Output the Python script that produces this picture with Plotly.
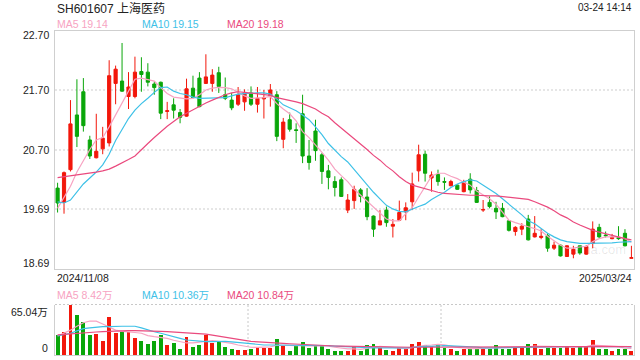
import pandas as pd
import plotly.graph_objects as go

# ---------------- data ----------------
holidays = ["2025-01-01", "2025-01-28", "2025-01-29", "2025-01-30", "2025-01-31",
            "2025-02-03", "2025-02-04"]
dates = [d.strftime("%Y/%m/%d") for d in pd.bdate_range("2024-11-08", "2025-03-24")
         if d.strftime("%Y-%m-%d") not in holidays]

open_ = [20.05, 19.81, 20.36, 21.28, 21.67, 20.86, 20.56, 20.71, 20.81, 21.81,
         21.85, 21.59, 21.59, 22.01, 22.00, 21.80, 21.83, 21.34, 21.45, 21.32,
         21.26, 21.73, 21.90, 21.81, 21.81, 21.99, 21.62, 21.53, 21.46, 21.50,
         21.65, 21.46, 21.55, 21.60, 21.62, 20.87, 21.20, 21.03, 21.30, 20.59,
         21.01, 20.61, 20.34, 20.16, 20.19, 19.68, 19.84, 20.02, 19.90, 19.58,
         19.43, 19.68, 19.41, 19.51, 19.65, 19.82, 20.34, 20.62, 20.22, 20.28,
         20.16, 20.09, 20.10, 19.99, 20.20, 20.01, 19.68, 19.81, 19.71, 19.71,
         19.50, 19.32, 19.36, 19.53, 19.23, 19.22, 19.25, 19.04, 19.09, 18.90,
         18.94, 19.08, 18.94, 19.12, 19.39, 19.26, 19.20, 19.22, 19.29, 18.87]
high = [20.14, 20.33, 21.53, 21.88, 21.90, 20.93, 21.30, 21.08, 22.20, 22.11,
        22.49, 22.00, 22.26, 22.25, 22.15, 21.84, 21.84, 21.50, 21.56, 21.38,
        21.89, 21.94, 22.00, 22.30, 22.05, 22.09, 21.91, 21.65, 21.75, 21.71,
        21.76, 21.75, 21.70, 21.80, 21.68, 21.23, 21.32, 21.14, 21.62, 20.86,
        21.20, 20.64, 20.44, 20.25, 20.23, 19.95, 20.09, 20.05, 20.05, 19.59,
        19.68, 19.74, 19.53, 19.84, 19.81, 20.31, 20.78, 20.68, 20.33, 20.36,
        20.23, 20.19, 20.11, 20.19, 20.30, 20.07, 19.85, 19.91, 19.82, 19.80,
        19.51, 19.41, 19.46, 19.60, 19.58, 19.36, 19.29, 19.15, 19.10, 19.09,
        19.08, 19.08, 19.09, 19.49, 19.45, 19.32, 19.28, 19.41, 19.36, 19.08]
low = [19.64, 19.62, 20.33, 20.74, 21.00, 20.54, 20.55, 20.62, 20.75, 21.46,
       21.67, 21.38, 21.56, 21.67, 21.76, 21.62, 21.21, 21.21, 21.22, 21.14,
       21.25, 21.56, 21.41, 21.80, 21.67, 21.65, 21.53, 21.36, 21.43, 21.35,
       21.43, 21.32, 21.22, 21.42, 20.84, 20.72, 21.00, 20.81, 20.47, 20.36,
       20.51, 20.12, 20.03, 19.91, 19.90, 19.63, 19.70, 19.81, 19.51, 19.23,
       19.43, 19.40, 19.22, 19.51, 19.51, 19.68, 20.16, 20.16, 19.99, 20.09,
       20.02, 20.08, 20.02, 19.98, 19.96, 19.80, 19.65, 19.71, 19.53, 19.56,
       19.32, 19.25, 19.26, 19.17, 19.22, 19.19, 18.98, 19.01, 18.90, 18.90,
       18.87, 18.93, 18.93, 19.04, 19.21, 19.22, 19.19, 19.18, 19.07, 18.87]
close = [19.80, 20.31, 21.13, 20.92, 21.10, 20.59, 20.67, 20.89, 21.94, 22.05,
         21.68, 21.75, 22.00, 21.96, 21.83, 21.74, 21.31, 21.35, 21.36, 21.24,
         21.72, 21.57, 21.42, 21.92, 21.95, 21.76, 21.56, 21.40, 21.62, 21.65,
         21.46, 21.56, 21.57, 21.70, 20.92, 21.16, 21.04, 21.02, 20.59, 20.48,
         20.68, 20.33, 20.23, 20.06, 19.91, 19.85, 20.03, 19.91, 19.57, 19.36,
         19.50, 19.47, 19.44, 19.64, 19.72, 20.12, 20.61, 20.30, 20.27, 20.16,
         20.15, 20.16, 20.03, 20.16, 20.02, 19.81, 19.69, 19.74, 19.65, 19.57,
         19.34, 19.39, 19.41, 19.18, 19.29, 19.24, 19.04, 19.09, 18.91, 19.08,
         19.02, 18.96, 19.07, 19.36, 19.23, 19.25, 19.22, 19.20, 19.08, 18.88]

ma5 = [19.71, 19.90, 20.08, 20.32, 20.52, 20.70, 20.86, 20.90, 21.08, 21.28,
       21.48, 21.68, 21.88, 21.90, 21.88, 21.85, 21.74, 21.64, 21.58, 21.56,
       21.55, 21.56, 21.62, 21.70, 21.73, 21.745, 21.74, 21.72, 21.66, 21.60,
       21.56, 21.56, 21.57, 21.59, 21.47, 21.38, 21.30, 21.18, 21.00, 20.90,
       20.78, 20.65, 20.52, 20.37, 20.26, 20.16, 20.03, 19.93, 19.83, 19.72,
       19.62, 19.53, 19.50, 19.50, 19.62, 19.72, 19.90, 20.08, 20.25, 20.30,
       20.30, 20.25, 20.21, 20.15, 20.10, 20.00, 19.94, 19.87, 19.78, 19.65,
       19.51, 19.47, 19.43, 19.40, 19.37, 19.33, 19.24, 19.17, 19.09, 19.04,
       19.04, 19.06, 19.07, 19.15, 19.20, 19.23, 19.23, 19.23, 19.20, 19.14]
ma10 = [19.82, 19.80, 19.85, 19.98, 20.12, 20.22, 20.32, 20.44, 20.62, 20.85,
        21.03, 21.22, 21.36, 21.47, 21.56, 21.66, 21.74, 21.75, 21.68, 21.64,
        21.62, 21.58, 21.56, 21.56, 21.56, 21.56, 21.57, 21.60, 21.63, 21.64,
        21.65, 21.65, 21.65, 21.63, 21.55, 21.45, 21.40, 21.35, 21.28, 21.20,
        21.08, 20.95, 20.80, 20.69, 20.58, 20.49, 20.36, 20.22, 20.10, 19.98,
        19.87, 19.76, 19.70, 19.66, 19.65, 19.70, 19.74, 19.78, 19.86, 19.92,
        19.98, 20.06, 20.12, 20.16, 20.19, 20.17, 20.10, 20.02, 19.96, 19.87,
        19.78, 19.70, 19.60, 19.50, 19.45, 19.37, 19.29, 19.23, 19.18, 19.15,
        19.13, 19.12, 19.12, 19.12, 19.12, 19.12, 19.13, 19.14, 19.15, 19.15]
ma20 = [20.225, 20.24, 20.26, 20.27, 20.28, 20.30, 20.32, 20.34, 20.37, 20.42,
        20.47, 20.53, 20.59, 20.70, 20.80, 20.90, 21.00, 21.09, 21.17, 21.25,
        21.31, 21.37, 21.43, 21.48, 21.53, 21.58, 21.62, 21.65, 21.67, 21.66,
        21.65, 21.64, 21.63, 21.61, 21.57, 21.55, 21.52, 21.50, 21.47, 21.43,
        21.38, 21.31, 21.25, 21.15, 21.06, 20.98, 20.88, 20.80, 20.70, 20.60,
        20.52, 20.42, 20.34, 20.24, 20.16, 20.10, 20.07, 20.04, 20.00, 19.98,
        19.96, 19.95, 19.94, 19.93, 19.93, 19.93, 19.92, 19.92, 19.92, 19.91,
        19.90, 19.89, 19.88, 19.86, 19.82, 19.78, 19.73, 19.67, 19.60, 19.55,
        19.48, 19.43, 19.38, 19.34, 19.31, 19.28, 19.25, 19.22, 19.20, 19.18]

volume = [27.0, 30.0, 65.04, 52.8, 42.9, 25.8, 27.9, 19.3, 50.2, 28.7,
          30.0, 30.0, 22.3, 18.4, 14.2, 18.4, 27.0, 12.9, 15.9, 8.6,
          23.6, 10.7, 12.9, 27.0, 15.9, 17.2, 10.7, 8.2, 7.3, 7.3,
          8.2, 10.7, 9.9, 9.9, 21.0, 11.6, 6.4, 11.6, 17.2, 9.9,
          12.9, 11.6, 9.0, 6.4, 5.6, 6.4, 11.6, 6.4, 12.9, 14.2,
          9.9, 7.3, 5.2, 9.9, 8.2, 14.2, 17.2, 12.9, 11.6, 12.9,
          9.9, 8.2, 6.4, 8.2, 9.9, 8.2, 8.2, 8.2, 12.9, 9.0,
          9.0, 9.9, 9.9, 14.2, 14.2, 8.2, 9.9, 9.9, 9.9, 12.4,
          9.9, 10.7, 11.6, 20.6, 9.0, 9.0, 6.4, 9.0, 9.0, 6.4]
vma5 = [24.5, 28.0, 32.0, 37.0, 41.6, 43.8, 43.5, 40.0, 36.0, 32.0,
        30.5, 30.0, 29.0, 28.0, 25.0, 23.6, 22.5, 21.5, 19.0, 17.2,
        15.5, 15.5, 16.5, 17.5, 18.4, 17.5, 16.5, 15.0, 12.9, 11.5,
        10.0, 9.9, 9.9, 10.5, 12.5, 12.9, 12.5, 12.0, 11.6, 11.6,
        11.6, 11.8, 11.4, 10.0, 8.5, 7.8, 7.9, 7.2, 8.5, 10.2,
        11.0, 10.5, 9.7, 9.3, 8.1, 9.5, 11.0, 12.5, 12.9, 13.8,
        13.0, 11.0, 9.9, 9.0, 8.1, 8.2, 8.4, 8.5, 9.3, 9.4,
        9.5, 9.8, 10.4, 10.6, 11.6, 11.3, 11.3, 11.3, 10.4, 10.4,
        10.4, 10.7, 10.9, 12.8, 12.2, 12.0, 11.1, 10.8, 8.7, 8.42]
vma10 = [24.5, 26.0, 28.0, 31.0, 34.0, 35.0, 36.0, 36.5, 36.5, 37.0,
         37.0, 37.0, 37.0, 35.0, 32.0, 30.0, 28.0, 25.5, 23.6, 21.5,
         19.3, 18.5, 17.5, 17.2, 17.2, 17.5, 17.7, 17.0, 16.0, 15.0,
         14.0, 13.5, 12.9, 12.9, 12.9, 12.9, 12.9, 12.9, 12.9, 12.9,
         12.9, 12.5, 12.0, 11.5, 11.0, 10.2, 9.8, 9.2, 9.2, 9.1,
         9.2, 9.2, 8.8, 8.8, 9.3, 9.8, 10.7, 11.2, 11.1, 11.7,
         12.2, 11.7, 11.4, 11.4, 11.0, 10.2, 9.1, 8.7, 9.2, 9.4,
         9.6, 9.9, 10.1, 10.5, 10.8, 10.8, 11.0, 11.2, 11.0, 10.9,
         10.9, 10.9, 11.0, 11.6, 11.3, 11.2, 10.7, 10.8, 10.7, 10.36]
vma20 = [25.8, 26.5, 27.5, 28.2, 28.7, 29.2, 29.6, 30.0, 30.5, 31.0,
         31.3, 31.3, 31.3, 31.3, 31.3, 31.0, 30.5, 30.0, 29.5, 29.0,
         28.7, 28.0, 27.5, 27.0, 25.5, 24.0, 22.5, 21.5, 20.0, 18.8,
         17.5, 17.2, 16.5, 16.0, 15.3, 15.0, 14.5, 14.0, 13.5, 13.0,
         12.4, 12.0, 11.8, 11.6, 11.5, 11.3, 11.2, 11.0, 10.8, 10.6,
         10.4, 10.2, 10.0, 9.9, 9.9, 10.0, 10.0, 10.0, 10.1, 10.2,
         10.3, 10.2, 10.2, 10.1, 10.1, 10.0, 10.0, 10.0, 10.3, 10.5,
         10.5, 10.5, 10.5, 10.6, 10.6, 10.4, 10.3, 10.4, 10.5, 10.7,
         10.8, 10.8, 10.9, 11.1, 11.0, 11.0, 10.9, 10.9, 10.9, 10.84]

price_ticks = [18.69, 19.69, 20.70, 21.70, 22.70]
price_tick_vals = [18.69, 19.6925, 20.695, 21.6975, 22.70]
vol_ticks = ["0", "65.04万"]
vol_max = 65.04

title = "SH601607 上海医药"
timestamp = "03-24 14:14"
ma_labels = ["MA5 19.14", "MA10 19.15", "MA20 19.18"]
vma_labels = ["MA5 8.42万", "MA10 10.36万", "MA20 10.84万"]

# ---------------- style ----------------
RED = "#f2170b"
GREEN = "#0aa60a"
C5 = "#f7a3c2"
C10 = "#3ec1e7"
C20 = "#ea4a7e"
FONT = "Arial, Liberation Sans, Noto Sans CJK SC, sans-serif"
W, H = 640, 360
PX0, PX1 = 55, 634
MAIN_T, MAIN_B = 30.5, 269
VOL_T, VOL_B = 304.5, 355


def py(v):
    return 1 - v / H


fig = go.Figure()

fig.add_trace(go.Candlestick(
    x=dates, open=open_, high=high, low=low, close=close,
    increasing=dict(line=dict(color=RED, width=1), fillcolor=RED),
    decreasing=dict(line=dict(color=GREEN, width=1), fillcolor=GREEN),
    whiskerwidth=0, hoverinfo="skip", xaxis="x", yaxis="y"))

for arr, col in [(ma5, C5), (ma10, C10), (ma20, C20)]:
    fig.add_trace(go.Scatter(x=dates, y=arr, mode="lines",
                             line=dict(color=col, width=1.2),
                             hoverinfo="skip", xaxis="x", yaxis="y"))

vcolors = [RED if c >= o else GREEN for o, c in zip(open_, close)]
fig.add_trace(go.Bar(x=dates, y=volume, marker=dict(color=vcolors, line=dict(width=0)),
                     width=0.6, hoverinfo="skip", xaxis="x2", yaxis="y2"))
for arr, col in [(vma5, C5), (vma10, C10), (vma20, C20)]:
    fig.add_trace(go.Scatter(x=dates, y=arr, mode="lines",
                             line=dict(color=col, width=1.2),
                             hoverinfo="skip", xaxis="x2", yaxis="y2"))

xdom = [PX0 / W, PX1 / W]
xr = [-0.4, len(dates) - 0.6]
fig.update_layout(
    width=W, height=H, margin=dict(l=0, r=0, t=0, b=0),
    paper_bgcolor="white", plot_bgcolor="white", showlegend=False,
    font=dict(family=FONT, size=10.5, color="#333"),
    xaxis=dict(domain=xdom, type="category", range=xr, anchor="y",
               showticklabels=False, showgrid=False, zeroline=False,
               showline=True, mirror=True, linecolor="#cfcfcf", linewidth=1,
               rangeslider=dict(visible=False)),
    yaxis=dict(domain=[py(MAIN_B), py(MAIN_T)], range=[price_tick_vals[0], price_tick_vals[-1]],
               anchor="x", tickvals=price_tick_vals[1:-1], showticklabels=False,
               showgrid=True, gridcolor="#e6e6e6", gridwidth=2, griddash="2px,2px",
               zeroline=False, showline=True, mirror=True, linecolor="#cfcfcf", linewidth=1),
    xaxis2=dict(domain=xdom, type="category", range=xr, anchor="y2",
                showticklabels=False, showgrid=False, zeroline=False,
                showline=True, linecolor="#cfcfcf", linewidth=1),
    yaxis2=dict(domain=[py(VOL_B), py(VOL_T)], range=[0, vol_max], anchor="x2",
                showticklabels=False, showgrid=False, zeroline=False,
                showline=True, mirror=True, linecolor="#cfcfcf", linewidth=1),
    bargap=0,
)

# volume panel top dotted border and vertical dotted dividers
fig.add_shape(type="line", xref="x2 domain", yref="y2 domain", x0=0, x1=1, y0=1, y1=1,
              line=dict(color="#c8c8c8", width=1, dash="2px,2px"))
for fx in (1 / 3, 2 / 3):
    fig.add_shape(type="line", xref="x2 domain", yref="y2 domain", x0=fx, x1=fx, y0=0, y1=1,
                  line=dict(color="#c8c8c8", width=1, dash="2px,2px"))

ann = []
# title and timestamp
ann.append(dict(text=title, x=PX0 / W, y=py(8), xref="paper", yref="paper",
                xanchor="left", yanchor="middle", showarrow=False,
                font=dict(size=12, color="#222")))
ann.append(dict(text=timestamp, x=PX1 / W, y=py(7), xref="paper", yref="paper",
                xanchor="right", yanchor="middle", showarrow=False,
                font=dict(size=10, color="#222")))
# MA legends
for lbl, col, px in zip(ma_labels, [C5, C10, C20], [55, 140, 225]):
    ann.append(dict(text=lbl, x=px / W, y=py(24), xref="paper", yref="paper",
                    xanchor="left", yanchor="middle", showarrow=False,
                    font=dict(size=10.5, color=col)))
for lbl, col, px in zip(vma_labels, [C5, C10, C20], [55, 140, 225]):
    ann.append(dict(text=lbl, x=px / W, y=py(294.5), xref="paper", yref="paper",
                    xanchor="left", yanchor="middle", showarrow=False,
                    font=dict(size=10.5, color=col)))
# price tick labels
n = len(price_ticks)
for i, (lbl, v) in enumerate(zip(price_ticks, price_tick_vals)):
    shift = 6 if i == 0 else (-4 if i == n - 1 else 0)
    ann.append(dict(text=f"{lbl:.2f}", x=51 / W, y=v, xref="paper", yref="y",
                    xanchor="right", yanchor="middle", yshift=shift, showarrow=False,
                    font=dict(size=10.5, color="#222")))
# volume tick labels
ann.append(dict(text=vol_ticks[0], x=50 / W, y=0, xref="paper", yref="y2",
                xanchor="right", yanchor="middle", yshift=7, showarrow=False,
                font=dict(size=10.5, color="#222")))
ann.append(dict(text=vol_ticks[1], x=50 / W, y=vol_max, xref="paper", yref="y2",
                xanchor="right", yanchor="middle", yshift=-7, showarrow=False,
                font=dict(size=10.5, color="#222")))
# date labels
ann.append(dict(text=dates[0], x=PX0 / W, y=py(277.5), xref="paper", yref="paper",
                xanchor="left", yanchor="middle", showarrow=False,
                font=dict(size=10.5, color="#222")))
ann.append(dict(text=dates[-1], x=PX1 / W, y=py(277.5), xref="paper", yref="paper",
                xanchor="right", yanchor="middle", showarrow=False,
                font=dict(size=10.5, color="#222")))
# watermark
ann.append(dict(text="sina.com", x=600 / W, y=py(249), xref="paper", yref="paper",
                xanchor="center", yanchor="middle", showarrow=False,
                font=dict(size=13, color="rgba(0,0,0,0.10)")))

fig.update_layout(annotations=ann)
fig.write_html("out.html")
